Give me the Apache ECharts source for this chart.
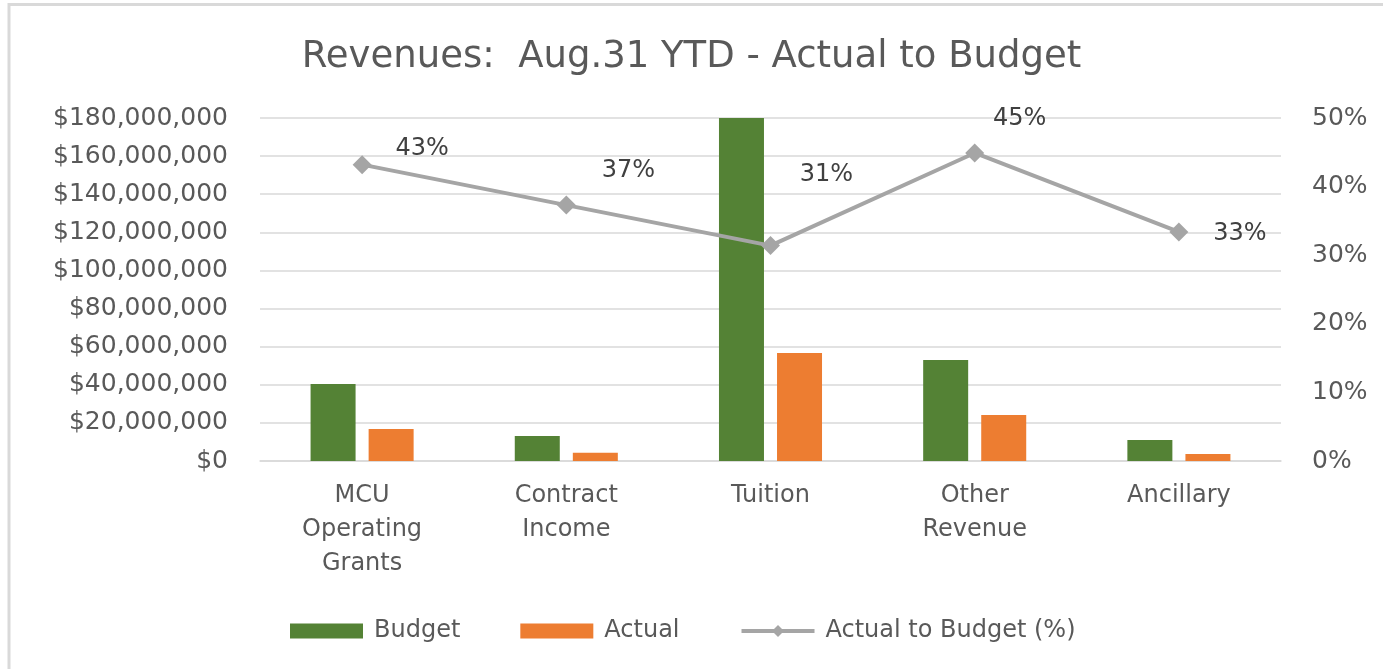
<!DOCTYPE html>
<html>
<head>
    <meta charset="UTF-8">
    <title>Revenues: Aug.31 YTD - Actual to Budget</title>
    <script src="https://cdn.jsdelivr.net/npm/echarts@6/dist/echarts.min.js"></script>
    <style>
        html, body { margin: 0; padding: 0; background: #fff; }
    </style>
</head>
<body>
    <div id="chart" style="width:1383px; height:669px;"></div>
    <script>
        // chart data
        var categories = ['MCU\nOperating\nGrants', 'Contract\nIncome', 'Tuition', 'Other\nRevenue', 'Ancillary'];
        var budget = [40400000, 13100000, 180000000, 53000000, 11000000];
        var actual = [16800000, 4300000, 56700000, 24100000, 3700000];
        var ratio = [0.432, 0.373, 0.314, 0.449, 0.334];

        // where each % label sits relative to its marker (Excel put them by hand)
        var labelOffsets = [[60, -16], [62, -34], [56, -71], [45, -34], [61, 2]];

        var textColor = '#595959';
        var font = 'DejaVu Sans';

        var chart = echarts.init(document.getElementById('chart'), null, {renderer: 'canvas'});

        chart.setOption({
            animation: false,
            textStyle: { fontFamily: font },
            title: {
                text: 'Revenues:  Aug.31 YTD - Actual to Budget',
                left: 'center',
                top: 34,
                textStyle: { fontFamily: font, fontSize: 37, fontWeight: 'normal', color: textColor }
            },
            graphic: [{
                type: 'rect',
                silent: true,
                shape: { x: 9, y: 4.5, width: 1400, height: 700 },
                style: { fill: 'none', stroke: '#D9D9D9', lineWidth: 3 }
            }],
            legend: {
                left: 285,
                top: 614,
                itemWidth: 73,
                itemHeight: 15,
                itemGap: 60,
                textStyle: { fontFamily: font, fontSize: 24, color: textColor, padding: [0, 0, 0, 6] },
                data: [
                    { name: 'Budget', icon: 'rect' },
                    { name: 'Actual', icon: 'rect' },
                    { name: 'Actual to Budget (%)', lineStyle: { width: 4 } }
                ]
            },
            grid: { left: 260, right: 102, top: 118, bottom: 208 },
            xAxis: {
                type: 'category',
                data: categories,
                axisTick: { show: false },
                axisLine: { lineStyle: { color: '#D9D9D9', width: 1.5 } },
                axisLabel: {
                    margin: 18,
                    fontFamily: font,
                    fontSize: 24,
                    lineHeight: 34,
                    color: textColor
                }
            },
            yAxis: [{
                type: 'value',
                min: 0,
                max: 180000000,
                interval: 20000000,
                axisLabel: {
                    margin: 32,
                    fontFamily: font,
                    fontSize: 25,
                    color: textColor,
                    formatter: function (v) { return '$' + v.toLocaleString('en-US'); }
                },
                splitLine: { lineStyle: { color: '#D9D9D9', width: 1.5 } }
            }, {
                type: 'value',
                min: 0,
                max: 0.5,
                interval: 0.1,
                splitLine: { show: false },
                axisLabel: {
                    margin: 31,
                    fontFamily: font,
                    fontSize: 25,
                    color: textColor,
                    formatter: function (v) { return Math.round(v * 100) + '%'; }
                }
            }],
            series: [{
                name: 'Budget',
                type: 'bar',
                barWidth: 45,
                barGap: '29%',
                itemStyle: { color: '#548235' },
                data: budget
            }, {
                name: 'Actual',
                type: 'bar',
                barWidth: 45,
                itemStyle: { color: '#ED7D31' },
                data: actual
            }, {
                name: 'Actual to Budget (%)',
                type: 'line',
                yAxisIndex: 1,
                symbol: 'diamond',
                symbolSize: 19,
                lineStyle: { color: '#A5A5A5', width: 4 },
                itemStyle: { color: '#A5A5A5' },
                label: {
                    show: true,
                    position: 'inside',
                    fontFamily: font,
                    fontSize: 24,
                    color: '#404040',
                    formatter: function (p) { return Math.round(p.value * 100) + '%'; }
                },
                data: ratio.map(function (v, i) {
                    return { value: v, label: { offset: labelOffsets[i] } };
                })
            }]
        });
    </script>
</body>
</html>
